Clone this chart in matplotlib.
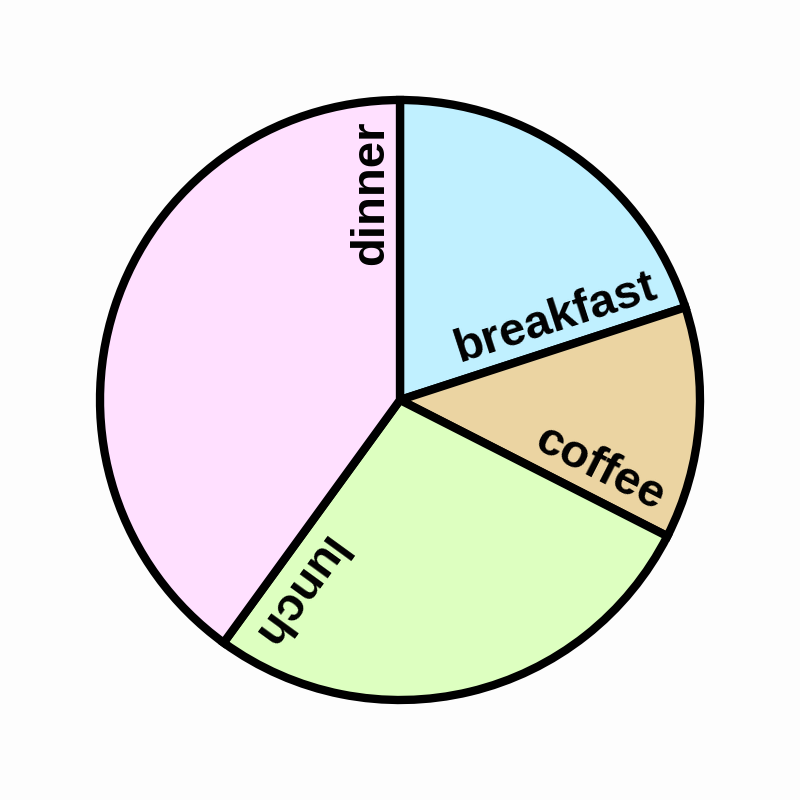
import numpy as np
import matplotlib.pyplot as plt

# meal shares, clockwise from the top
meals = ['breakfast', 'coffee', 'lunch', 'dinner']
shares = [20, 12.5, 27.5, 40]
colours = ['#c0f0ff', '#ebd4a2', '#ddffc0', '#ffe0ff']

fig = plt.figure(figsize=(8, 8), dpi=100, facecolor='#fdfdfd')
ax = fig.add_axes([0, 0, 1, 1])
ax.set_facecolor('#fdfdfd')

wedges, _ = ax.pie(shares, colors=colours, startangle=90, counterclock=False,
                   radius=1, wedgeprops={'edgecolor': 'black', 'linewidth': 6})

# label sits on the clockwise edge of each slice, reading outward
for w, name in zip(wedges, meals):
    a = np.deg2rad(w.theta1)
    r, off = 0.93, 0.057
    x = r * np.cos(a) - off * np.sin(a)
    y = r * np.sin(a) + off * np.cos(a)
    ax.text(x, y, name, rotation=w.theta1, rotation_mode='anchor',
            ha='right', va='baseline', fontsize=34, fontweight='bold',
            family=['Liberation Sans', 'DejaVu Sans'])

ax.set_xlim(-4 / 3, 4 / 3)
ax.set_ylim(-4 / 3, 4 / 3)
ax.set_aspect('equal')
ax.axis('off')

fig.savefig('out.png', dpi=100, facecolor=fig.get_facecolor())
